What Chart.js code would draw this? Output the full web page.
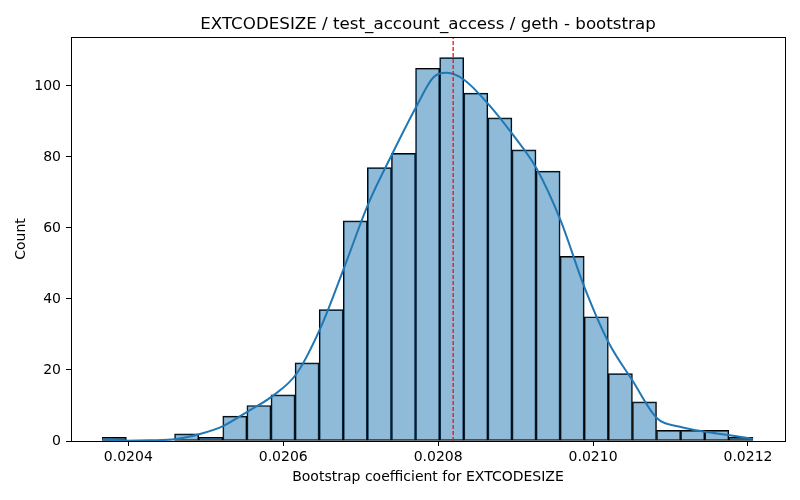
<!DOCTYPE html>
<html>
<head>
<meta charset="utf-8">
<script src="https://cdn.jsdelivr.net/npm/chart.js@4/dist/chart.umd.min.js"></script>
<style>
  html, body { margin: 0; padding: 0; background: #fff; }
  #wrap { width: 800px; height: 500px; }
</style>
</head>
<body>
<div id="wrap"><canvas id="chart" width="800" height="500"></canvas></div>
<script>
// histogram: 27 bins, counts
const binStart = 0.0203664;
const binWidth = 0.00003111;
const binCounts = [1, 0, 0, 2, 1, 7, 10, 13, 22, 37, 62, 77, 81, 105, 108,
                   98, 91, 82, 76, 52, 35, 19, 11, 3, 3, 3, 1];

// kde curve, points
const kdeX = [0.0203664, 0.0203983, 0.0204280, 0.0204603, 0.0204913, 0.0205223,
              0.0205541, 0.0205851, 0.0206174, 0.0206484, 0.0206789, 0.0207098,
              0.0207408, 0.0207714, 0.0207937, 0.0208110, 0.0208338, 0.0208648,
              0.0208957, 0.0209272, 0.0209582, 0.0209887, 0.0210197, 0.0210507,
              0.0210822, 0.0211122, 0.0211445, 0.0211742, 0.0212065];
const kdeY = [0.5, 0.1, 0.2, 0.5, 1.9, 4.2, 8.3, 12.5, 19, 32, 49, 66.8,
              80.9, 94, 102.4, 103.7, 101.7, 94.9, 86.5, 76.7, 62.1, 43.4, 27.9, 17.1,
              6.5, 4.0, 2.6, 1.7, 0.6];

const meanValue = 0.0208194;
const xTicks = [0.0204, 0.0206, 0.0208, 0.0210, 0.0212];
const yTicks = [0, 20, 40, 60, 80, 100];
const xMin = 0.020326, xMax = 0.0212478;
const yMax = 113.8;

const titleText = 'EXTCODESIZE / test_account_access / geth - bootstrap';
const font = 'DejaVu Sans';

const histData = binCounts.map((c, i) => ({ x: binStart + binWidth * (i + 0.5), y: c }));
const kdeData = kdeX.map((x, i) => ({ x: x, y: kdeY[i] }));

// rectangle round the plot area (matplotlib spines) and a title centred on it
const frame = {
    id: 'frame',
    afterDatasetsDraw(chart) {
        const a = chart.chartArea;
        const ctx = chart.ctx;
        ctx.save();
        ctx.strokeStyle = '#000';
        ctx.lineWidth = 1;
        ctx.strokeRect(Math.round(a.left) + 0.5, Math.round(a.top) + 0.5,
                       Math.round(a.right - a.left), Math.round(a.bottom - a.top));
        ctx.fillStyle = '#000';
        ctx.font = '16.7px "' + font + '"';
        ctx.textAlign = 'center';
        ctx.textBaseline = 'alphabetic';
        ctx.fillText(titleText, (a.left + a.right) / 2, 29);
        ctx.restore();
    }
};

new Chart(document.getElementById('chart'), {
    type: 'bar',
    data: {
        datasets: [{
            type: 'line',
            data: kdeData,
            borderColor: '#1f77b4',
            borderWidth: 2,
            pointRadius: 0,
            cubicInterpolationMode: 'monotone',
            order: 0
        }, {
            type: 'line',
            data: [{ x: meanValue, y: 0 }, { x: meanValue, y: yMax }],
            borderColor: '#e8141a',
            borderWidth: 1.3,
            borderDash: [4, 2],
            pointRadius: 0,
            order: -1
        }, {
            type: 'bar',
            data: histData,
            backgroundColor: 'rgba(31, 119, 180, 0.5)',
            borderColor: '#000',
            borderWidth: 1,
            borderSkipped: false,
            barPercentage: 1,
            categoryPercentage: 1,
            grouped: false,
            order: 1
        }]
    },
    options: {
        responsive: false,
        animation: false,
        layout: { padding: { left: 0, right: 15, top: 37, bottom: 0 } },
        scales: {
            x: {
                type: 'linear',
                min: xMin,
                max: xMax,
                offset: false,
                afterBuildTicks: axis => { axis.ticks = xTicks.map(v => ({ value: v })); },
                afterFit: axis => { axis.height = 59; },
                grid: { offset: false, drawOnChartArea: false, tickLength: 5, tickColor: '#000' },
                border: { display: false },
                ticks: {
                    color: '#000',
                    padding: 3,
                    maxRotation: 0,
                    font: { family: font, size: 14 },
                    callback: v => v.toFixed(4)
                },
                title: {
                    display: true,
                    text: 'Bootstrap coefficient for EXTCODESIZE',
                    color: '#000',
                    font: { family: font, size: 14 },
                    padding: { top: 0, bottom: 14 }
                }
            },
            y: {
                type: 'linear',
                min: 0,
                max: yMax,
                afterBuildTicks: axis => { axis.ticks = yTicks.map(v => ({ value: v })); },
                afterFit: axis => { axis.width = 71; },
                grid: { drawOnChartArea: false, tickLength: 5, tickColor: '#000' },
                border: { display: false },
                ticks: {
                    color: '#000',
                    padding: 5,
                    font: { family: font, size: 14 }
                },
                title: {
                    display: true,
                    text: 'Count',
                    color: '#000',
                    font: { family: font, size: 14 },
                    padding: { top: 13, bottom: 0 }
                }
            }
        },
        plugins: {
            legend: { display: false },
            tooltip: { enabled: false },
            title: { display: false }
        }
    },
    plugins: [frame]
});
</script>
</body>
</html>
